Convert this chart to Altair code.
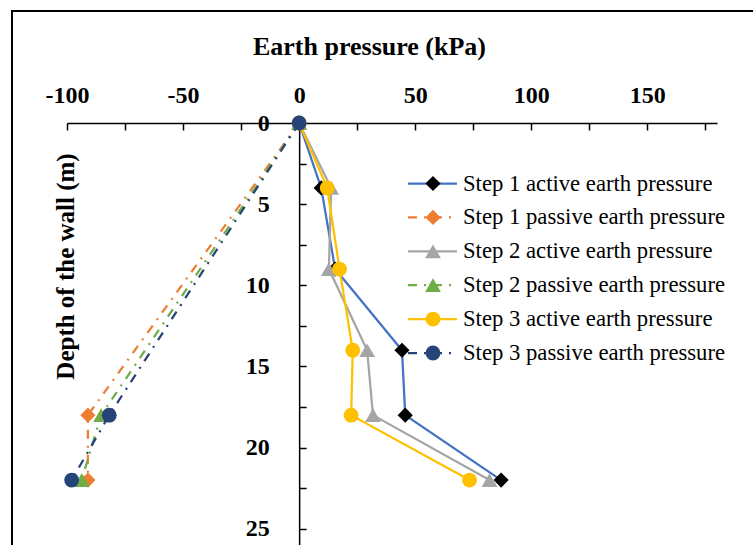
import altair as alt
import pandas as pd

# ---- data ----
depth_active = [0, 4, 9, 14, 18, 22]
depth_passive = [0, 18, 22]
step1_active = [0, 9.5, 15.5, 44.3, 45.7, 87.0]
step2_active = [0, 13.8, 12.8, 29.3, 31.8, 82.0]
step3_active = [0, 12.1, 17.4, 23.1, 22.4, 73.4]
step1_passive = [0, -91.0, -91.0]
step2_passive = [0, -85.3, -93.7]
step3_passive = [0, -81.8, -98.0]

series_names = [
    "Step 1 active earth pressure",
    "Step 1 passive earth pressure",
    "Step 2 active earth pressure",
    "Step 2 passive earth pressure",
    "Step 3 active earth pressure",
    "Step 3 passive earth pressure",
]
series_depths = [depth_active, depth_passive, depth_active, depth_passive, depth_active, depth_passive]
series_values = [step1_active, step1_passive, step2_active, step2_passive, step3_active, step3_passive]

x_label_values = [-100, -50, 0, 50, 100, 150]
x_tick_values = [-100, -75, -50, -25, 0, 25, 50, 75, 100, 125, 150, 175]
y_label_values = [0, 5, 10, 15, 20, 25]
y_tick_values = [0, 2.5, 5, 7.5, 10, 12.5, 15, 17.5, 20, 22.5, 25]

# ---- styles ----
line_colors = ["#4472C4", "#ED7D31", "#A5A5A5", "#70AD47", "#FFC000", "#264478"]
marker_colors = ["#000000", "#ED7D31", "#A5A5A5", "#70AD47", "#FFC000", "#264478"]
shapes = ["diamond", "diamond", "triangle-up", "triangle-up", "circle", "circle"]
sizes = [230, 230, 250, 250, 220, 220]
passive = [False, True, False, True, False, True]
DASH = [9, 7, 2, 7]

rows = []
for name, ds, vs in zip(series_names, series_depths, series_values):
    for i, (d, v) in enumerate(zip(ds, vs)):
        rows.append({"series": name, "depth": d, "pressure": v, "idx": i})
df = pd.DataFrame(rows)

FONT = "Liberation Serif"
W, H = 650, 422
XDOM = [-100, 180]
YDOM = [0, 26]
x0_px = (0 - XDOM[0]) / (XDOM[1] - XDOM[0]) * W  # pixel of x = 0

x_scale = alt.Scale(domain=XDOM, nice=False, zero=False)
y_scale = alt.Scale(domain=YDOM, nice=False, zero=False, reverse=True)

x_axis = alt.Axis(
    orient="top", values=x_label_values, ticks=False, tickSize=0, domain=False, grid=False,
    labelFont=FONT, labelFontSize=24, labelFontWeight="bold", labelColor="black",
    labelPadding=16, labelFlush=False, labelOverlap=False, labelExpr="'' + datum.value",
    title="Earth pressure (kPa)", titleFont=FONT, titleFontSize=26, titleFontWeight="bold",
    titleColor="black", titleX=302, titleY=-69, titleAlign="center", titleBaseline="alphabetic",
)
y_axis = alt.Axis(
    orient="left", offset=-x0_px, values=y_label_values, ticks=False, tickSize=0, domain=False,
    grid=False, labelFont=FONT, labelFontSize=24, labelFontWeight="bold", labelColor="black",
    labelPadding=30, labelFlush=False, labelOverlap=False,
    title="Depth of the wall (m)", titleFont=FONT, titleFontSize=25, titleFontWeight="bold",
    titleColor="black", titleAngle=270, titleX=-226, titleY=143, titleAlign="center",
    titleBaseline="alphabetic",
)
X = alt.X("pressure:Q", scale=x_scale, axis=x_axis)
Y = alt.Y("depth:Q", scale=y_scale, axis=y_axis)

layers = []
for k, name in enumerate(series_names):
    sub = alt.Chart(df).transform_filter(alt.datum.series == name)
    line_kw = dict(color=line_colors[k], strokeWidth=2.25)
    if passive[k]:
        line_kw["strokeDash"] = DASH
    layers.append(sub.mark_line(**line_kw).encode(x=X, y=Y, order="idx:Q"))
    layers.append(
        sub.mark_point(shape=shapes[k], filled=True, size=sizes[k], color=marker_colors[k], opacity=1)
        .encode(x=X, y=Y)
    )

# legend (manual, pixel layout)
one = pd.DataFrame({"a": [0]})
LX0, LX1, LXM, LXT = 341, 390, 366, 396
LY0, LDY = 60.5, 33.9
for k, name in enumerate(series_names):
    yy = LY0 + LDY * k
    rule_kw = dict(color=line_colors[k], strokeWidth=2.25)
    if passive[k]:
        rule_kw["strokeDash"] = DASH
    layers.append(alt.Chart(one).mark_rule(**rule_kw).encode(
        x=alt.value(LX0), x2=alt.value(LX1), y=alt.value(yy)))
    layers.append(alt.Chart(one).mark_point(
        shape=shapes[k], filled=True, size=sizes[k], color=marker_colors[k], opacity=1
    ).encode(x=alt.value(LXM), y=alt.value(yy)))
    layers.append(alt.Chart(one).mark_text(
        align="left", baseline="middle", font=FONT, fontSize=22.7, color="black"
    ).encode(x=alt.value(LXT), y=alt.value(yy), text=alt.value(name)))

# chart border (left and top edges visible in the crop)
layers.append(alt.Chart(one).mark_rule(color="black", strokeWidth=2).encode(
    x=alt.value(-55), y=alt.value(-112), y2=alt.value(H)))
layers.append(alt.Chart(one).mark_rule(color="black", strokeWidth=2).encode(
    x=alt.value(-56), x2=alt.value(700), y=alt.value(-112)))

main = alt.layer(*layers)

# tick / domain axes (ticks pointing into the plot)
x_tick_axis = alt.Axis(
    orient="bottom", offset=-H, values=x_tick_values, labels=False, ticks=True, tickSize=7,
    tickColor="black", tickWidth=1.5, domain=True, domainColor="black", domainWidth=1.5,
    grid=False, title=None,
)
y_tick_axis = alt.Axis(
    orient="right", offset=-(W - x0_px), values=y_tick_values, labels=False, ticks=True,
    tickSize=7, tickColor="black", tickWidth=1.5, domain=True, domainColor="black",
    domainWidth=1.5, grid=False, title=None,
)
ticks_layer = alt.Chart(df).mark_point(opacity=0).encode(
    x=alt.X("pressure:Q", scale=x_scale, axis=x_tick_axis),
    y=alt.Y("depth:Q", scale=y_scale, axis=y_tick_axis),
)

chart = alt.layer(ticks_layer, main).resolve_scale(x="independent", y="independent").properties(
    width=W, height=H,
    autosize=alt.AutoSizeParams(type="none"),
    padding={"left": 67, "top": 123, "right": 36, "bottom": 0},
    background="white",
).configure_view(strokeWidth=0)

chart.save("out.html", embed_options={"renderer": "svg", "actions": False})
